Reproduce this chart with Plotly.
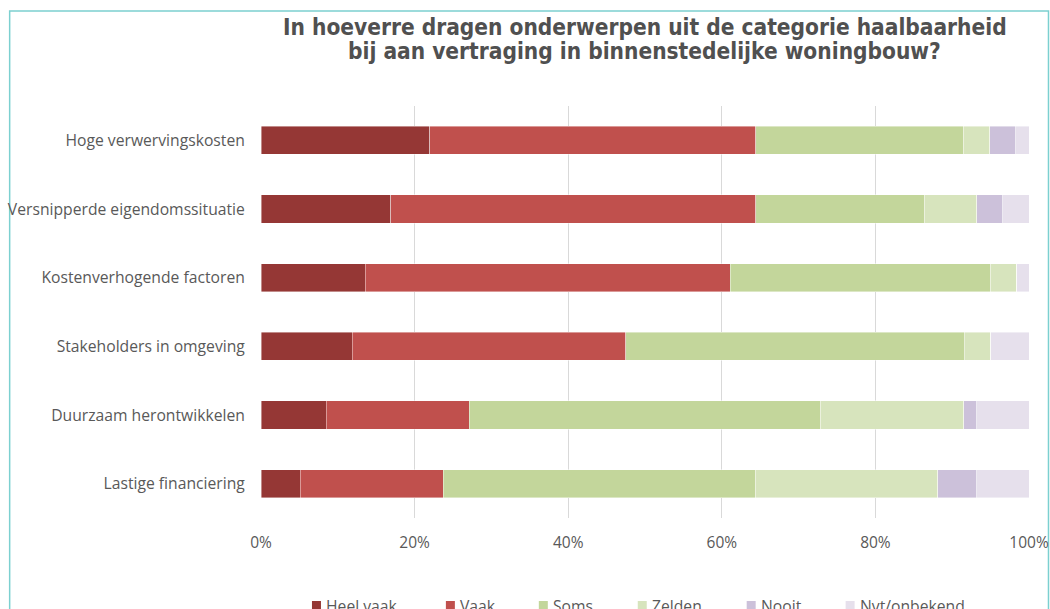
import plotly.graph_objects as go

categories = [
    "Hoge verwervingskosten",
    "Versnipperde eigendomssituatie",
    "Kostenverhogende factoren",
    "Stakeholders in omgeving",
    "Duurzaam herontwikkelen",
    "Lastige financiering",
]
heel_vaak = [22.0, 16.9, 13.6, 11.9, 8.5, 5.1]
vaak = [42.4, 47.5, 47.5, 35.6, 18.6, 18.6]
soms = [27.1, 22.0, 33.9, 44.1, 45.8, 40.7]
zelden = [3.4, 6.8, 3.4, 3.4, 18.6, 23.7]
nooit = [3.4, 3.4, 0.0, 0.0, 1.7, 5.1]
nvt = [1.7, 3.4, 1.7, 5.1, 6.8, 6.8]

series_names = ["Heel vaak", "Vaak", "Soms", "Zelden", "Nooit", "Nvt/onbekend"]
series_values = [heel_vaak, vaak, soms, zelden, nooit, nvt]
series_colors = ["#953735", "#C0504D", "#C3D69B", "#D7E4BD", "#CCC1DA", "#E6E0EC"]

tick_vals = [0, 20, 40, 60, 80, 100]
tick_text = ["0%", "20%", "40%", "60%", "80%", "100%"]

title_lines = ["In hoeverre dragen onderwerpen uit de categorie haalbaarheid",
               "bij aan vertraging in binnenstedelijke woningbouw?"]

W, H = 1050, 609
ml, mr, mt, mb = 261, 20.5, 106, 91
pw, ph = W - ml - mr, H - mt - mb


def px_x(x):
    return (x - ml) / pw


def px_y(y):
    return (H - mb - y) / ph


fig = go.Figure()
for name, vals, col in zip(series_names, series_values, series_colors):
    fig.add_trace(go.Bar(
        y=categories, x=vals, name=name, orientation="h", showlegend=False,
        marker=dict(color=col, line=dict(color="rgba(255,255,255,0.6)", width=0.7)),
    ))

annotations = []
# title (two centred lines)
for line, yc in zip(title_lines, [26.5, 50.5]):
    annotations.append(dict(
        text=line, xref="paper", yref="paper", x=px_x(645), y=px_y(yc),
        xanchor="center", yanchor="middle", showarrow=False,
        font=dict(family="DejaVu Sans Condensed", size=22.5, color="#505050", weight="bold")))

# legend along the bottom edge
legend_x = [312, 446, 539, 638, 747, 846]
shapes = []
for name, col, lx in zip(series_names, series_colors, legend_x):
    shapes.append(dict(type="rect", xref="paper", yref="paper",
                       x0=px_x(lx), x1=px_x(lx + 9), y0=px_y(610), y1=px_y(601),
                       fillcolor=col, line=dict(width=0)))
    annotations.append(dict(
        text=name, xref="paper", yref="paper", x=px_x(lx + 12), y=px_y(606),
        xanchor="left", yanchor="middle", showarrow=False,
        font=dict(family="Open Sans", size=15.7, color="#595959")))

# outer teal frame
shapes.append(dict(type="rect", xref="paper", yref="paper",
                   x0=px_x(9.5), x1=px_x(1049), y0=px_y(640), y1=px_y(11),
                   line=dict(color="#7CD0D0", width=1.5), fillcolor="rgba(0,0,0,0)",
                   layer="below"))

fig.update_layout(
    width=W, height=H,
    barmode="stack", bargap=0.59,
    plot_bgcolor="white", paper_bgcolor="white",
    margin=dict(l=ml, r=mr, t=mt, b=mb, autoexpand=False),
    font=dict(family="Open Sans", size=15, color="#595959"),
    showlegend=False,
    xaxis=dict(range=[0, 100], tickvals=tick_vals, ticktext=tick_text,
               showgrid=True, gridcolor="#D9D9D9", gridwidth=1, zeroline=False,
               showline=False, ticks="outside", ticklen=10, tickcolor="rgba(0,0,0,0)",
               tickfont=dict(size=15.5, color="#595959")),
    yaxis=dict(autorange="reversed", showgrid=False, zeroline=False, showline=False,
               ticks="outside", ticklen=12, tickcolor="rgba(0,0,0,0)",
               tickfont=dict(size=15.7, color="#595959")),
    annotations=annotations,
    shapes=shapes,
)

fig.write_html("out.html", config={"displayModeBar": False},
               post_script="document.body.style.margin='0';document.body.style.overflow='hidden';")
